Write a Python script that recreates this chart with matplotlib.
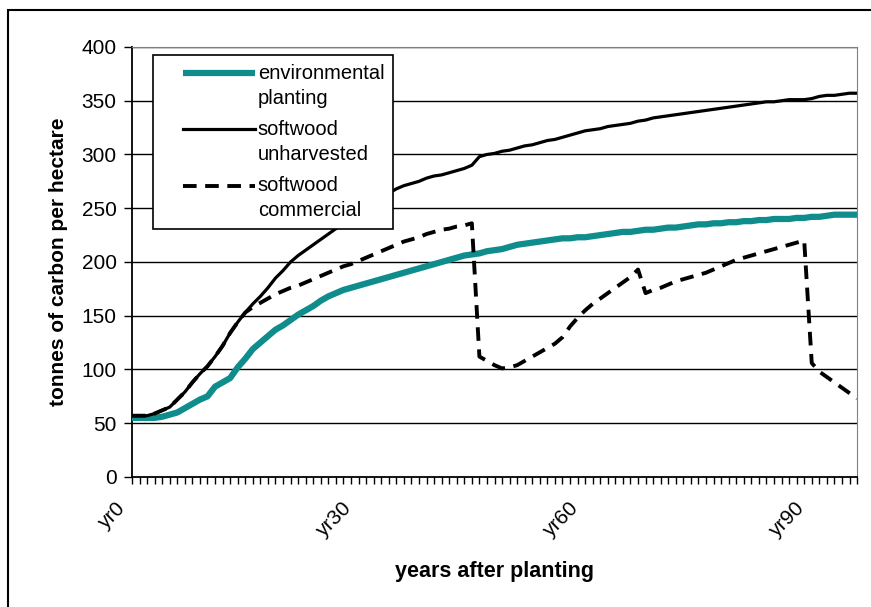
import matplotlib.pyplot as plt
import matplotlib.transforms as mtransforms
from matplotlib.legend_handler import HandlerLine2D
from matplotlib.patches import Rectangle

plt.rcParams['font.family'] = ['Liberation Sans', 'DejaVu Sans']
plt.rcParams['xtick.labelsize'] = 15
plt.rcParams['ytick.labelsize'] = 15
plt.rcParams['axes.labelsize'] = 15

years = list(range(97))
year_labels = ['yr%d' % y for y in years]

# tonnes of carbon per hectare, one value per year
environmental = [55, 55, 55, 55, 56, 58, 60, 64, 68, 72,
                 75, 84, 88, 92, 102, 110, 119, 125, 131, 137,
                 141, 146, 151, 155, 159, 164, 168, 171, 174, 176,
                 178, 180, 182, 184, 186, 188, 190, 192, 194, 196,
                 198, 200, 202, 204, 206, 207, 208, 210, 211, 212,
                 214, 216, 217, 218, 219, 220, 221, 222, 222, 223,
                 223, 224, 225, 226, 227, 228, 228, 229, 230, 230,
                 231, 232, 232, 233, 234, 235, 235, 236, 236, 237,
                 237, 238, 238, 239, 239, 240, 240, 240, 241, 241,
                 242, 242, 243, 244, 244, 244, 244]

unharvested = [57, 57, 57, 59, 62, 65, 72, 79, 88, 96,
               103, 112, 122, 134, 144, 153, 161, 168, 176, 185,
               192, 200, 206, 211, 216, 221, 226, 231, 236, 241,
               245, 250, 255, 259, 264, 268, 271, 273, 275, 278,
               280, 281, 283, 285, 287, 290, 298, 300, 301, 303,
               304, 306, 308, 309, 311, 313, 314, 316, 318, 320,
               322, 323, 324, 326, 327, 328, 329, 331, 332, 334,
               335, 336, 337, 338, 339, 340, 341, 342, 343, 344,
               345, 346, 347, 348, 349, 349, 350, 351, 351, 351,
               352, 354, 355, 355, 356, 357, 357]

commercial = [57, 57, 57, 59, 62, 65, 72, 79, 88, 96,
              103, 112, 122, 134, 144, 153, 158, 162, 166, 170,
              173, 176, 178, 181, 184, 187, 190, 193, 196, 198,
              201, 204, 207, 210, 213, 216, 219, 221, 223, 226,
              228, 230, 231, 233, 234, 236, 112, 108, 104, 101,
              102, 104, 108, 112, 116, 120, 124, 130, 140, 148,
              155, 161, 166, 171, 176, 181, 186, 193, 171, 174,
              176, 179, 182, 184, 186, 188, 190, 193, 196, 199,
              202, 204, 206, 208, 210, 212, 214, 216, 218, 220,
              106, 98, 93, 88, 83, 78, 73]


class FirstLineHandler(HandlerLine2D):
    # legend sample sits level with the first line of a two-line label
    def create_artists(self, legend, orig_handle, xdescent, ydescent,
                       width, height, fontsize, trans):
        arts = super().create_artists(legend, orig_handle, xdescent, ydescent,
                                      width, height, fontsize, trans)
        for a in arts:
            a.set_ydata([y + 0.66 * fontsize for y in a.get_ydata()])
        return arts


fig = plt.figure(figsize=(8.71, 6.07), dpi=100)
ax = fig.add_axes([0.1515, 0.2142, 0.8325, 0.7084])

# chart frame round the whole figure
fig.patches.append(Rectangle((8 / 871, -0.05), 1.2, 1 - 10 / 607 + 0.05,
                             transform=fig.transFigure, fill=False,
                             edgecolor='black', linewidth=1.5))

for v in range(50, 401, 50):
    ax.axhline(v, color='black', linewidth=1, zorder=1)

ax.plot(years, environmental, color='#0f8c8c', linewidth=4.5,
        solid_capstyle='butt', label='environmental\nplanting', zorder=3)
ax.plot(years, unharvested, color='black', linewidth=2.3,
        label='softwood\nunharvested', zorder=4)
ax.plot(years, commercial, color='black', linewidth=2.8,
        linestyle=(0, (3.5, 2.2)), label='softwood\ncommercial', zorder=4)

ax.set_xlim(0, 96)
ax.set_ylim(0, 400)
ax.set_yticks(range(0, 401, 50))
ax.set_xticks([0, 30, 60, 90])
ax.set_xticklabels([year_labels[i] for i in [0, 30, 60, 90]],
                   rotation=45, ha='right', va='top', rotation_mode='anchor')
ax.set_xticks(years, minor=True)
ax.tick_params(axis='y', direction='out', length=6, width=1, pad=5)
ax.tick_params(axis='x', which='both', direction='out', length=5, width=1, pad=11)

# nudge the slanted year labels left of their ticks
shift = mtransforms.ScaledTranslation(-17 / 100, 0, fig.dpi_scale_trans)
for lbl in ax.get_xticklabels():
    lbl.set_transform(lbl.get_transform() + shift)

for side in ['top', 'right']:
    ax.spines[side].set_color('#808080')
for side in ['left', 'bottom']:
    ax.spines[side].set_linewidth(1.3)

ax.set_xlabel('years after planting', fontweight='bold', fontsize=15.5, labelpad=14)
ax.set_ylabel('tonnes of carbon per hectare', fontweight='bold', labelpad=10)

leg = ax.legend(loc='upper left', bbox_to_anchor=(0.029, 0.981), fontsize=14.5,
                frameon=True, fancybox=False, edgecolor='black', framealpha=1,
                handlelength=4.6, handletextpad=0.15, labelspacing=0.6,
                borderpad=0.45, borderaxespad=0,
                handler_map={plt.Line2D: FirstLineHandler(xpad=1.05)})
for t in leg.get_texts():
    t.set_linespacing(1.4)
leg.get_frame().set_linewidth(1.2)
leg.set_zorder(5)

plt.savefig('out.png', dpi=100)
